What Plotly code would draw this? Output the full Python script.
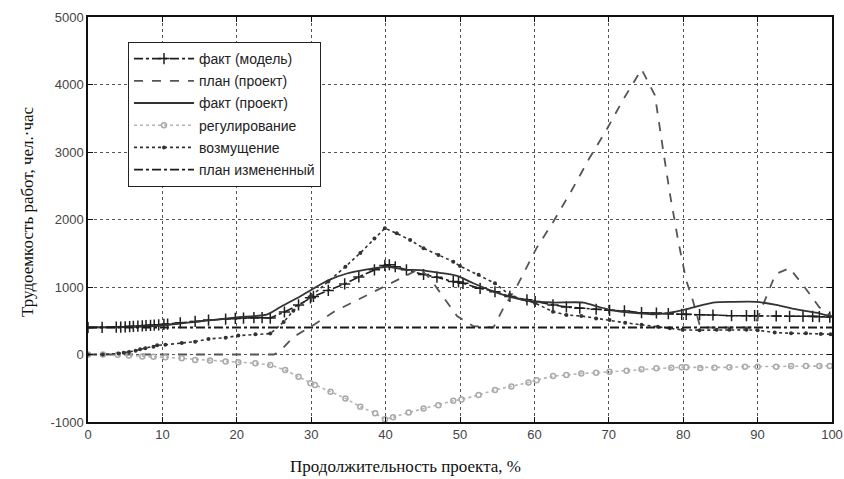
import plotly.graph_objects as go

# ---- data ----
model_x = [0, 1.9, 3.8, 4.4, 5.0, 5.6, 6.1, 6.7, 7.3, 7.8, 8.4, 8.9, 9.5, 10.2, 10.7, 12.4, 14.4, 16.2,
           18.5, 19.8, 20.9, 22.3, 23.4, 24.5, 26.4, 28.3, 29.9, 30.3, 32.3, 34.5, 36.4, 38.5, 39.9, 40.5,
           41.3, 42.8, 45.1, 46.9, 49.1, 49.8, 50.4, 52.7, 54.7, 56.7, 59.0, 60.1, 62.5, 64.3, 66.1, 68.3,
           70.1, 72.1, 74.4, 76.4, 78.0, 79.8, 80.4, 82.2, 84.0, 86.5, 88.5, 89.6, 90.0, 92.5, 94.3, 96.1,
           97.4, 98.3, 99.7]
model_y = [400, 403, 405, 407, 410, 413, 416, 420, 424, 428, 432, 436, 440, 445, 450, 470, 490, 510,
           525, 535, 540, 545, 545, 540, 630, 735, 840, 860, 950, 1045, 1150, 1255, 1320, 1330,
           1300, 1255, 1185, 1145, 1080, 1075, 1055, 980, 930, 860, 810, 785, 735, 705, 685, 670,
           655, 645, 620, 615, 605, 595, 595, 590, 585, 575, 575, 575, 575, 570, 565, 565,
           565, 560, 555]

plan_x = [0, 25, 26, 27.6, 30.1, 33.0, 36.6, 39.7, 42.8, 44.6, 46.0, 47.3, 49.6, 51.8, 53.6, 54.5,
          55.8, 57.6, 60.3, 62.5, 65.0, 67.4, 69.7, 71.9, 74.4, 76.2, 77.3, 78.2, 79.3, 80.4, 81.3,
          82.3, 89.5, 92.4, 94.3, 96.3, 98.3, 100]
plan_y = [0, 0, 70, 260, 420, 630, 830, 1000, 1180, 1270, 1120, 920, 570, 420, 400, 400,
          680, 1000, 1580, 1960, 2430, 2910, 3330, 3770, 4225, 3840, 3030, 2390, 1700, 1100, 800,
          400, 400, 1190, 1280, 1000, 700, 560]

fact_x = [0, 5, 10, 15, 20, 24, 25.8, 28.5, 30.5, 32.3, 34.8, 37.5, 40.2, 42.8, 44.6, 47.3, 49.6,
          51.8, 54.0, 56.7, 59.8, 62.5, 66.6, 68.8, 71.5, 74.2, 76.0, 78.2, 80.9, 84.0, 86.7, 89.8,
          92.5, 95.6, 98.3, 100]
fact_y = [400, 405, 430, 490, 550, 590, 700, 860, 990, 1100, 1200, 1260, 1300, 1255, 1250, 1210, 1165,
          1055, 955, 855, 785, 770, 770, 700, 635, 610, 595, 620, 685, 770, 780, 780,
          735, 660, 610, 560]

reg_x = [0, 2, 4, 5.5, 7.3, 8.8, 10.4, 12.6, 14.4, 16.4, 18.5, 20.2, 22.5, 24.5, 26.5, 28.3, 29.9,
         30.5, 32.6, 34.6, 36.6, 38.6, 39.9, 41.0, 43.1, 45.1, 47.1, 49.1, 50.2, 52.5, 54.7, 56.9,
         59.2, 60.3, 62.5, 64.3, 66.3, 68.3, 70.1, 72.4, 74.4, 76.4, 78.4, 79.8, 80.4, 82.3, 84.2,
         86.2, 88.3, 90.0, 92.5, 94.5, 96.5, 98.3, 99.7]
reg_y = [0, 0, -5, -15, -30, -35, -42, -57, -80, -90, -105, -115, -130, -155, -230, -330, -425,
         -450, -550, -650, -775, -870, -960, -930, -860, -800, -750, -685, -665, -600, -525, -475,
         -415, -380, -320, -305, -280, -270, -255, -240, -220, -205, -195, -190, -190, -200, -195,
         -190, -180, -180, -180, -170, -170, -170, -170]

dist_x = [0, 2, 4.1, 4.8, 5.5, 6.4, 7.0, 7.7, 8.8, 9.3, 10.4, 12.6, 14.4, 16.2, 18.5, 20.2, 22.5,
          24.5, 26.3, 27.6, 29.9, 32.3, 34.6, 36.6, 38.5, 39.9, 41.5, 43.3, 45.1, 47.1, 49.1, 50.0,
          52.5, 54.7, 56.7, 59.0, 60.1, 62.5, 64.3, 66.3, 68.3, 70.1, 72.2, 74.4, 76.6, 78.2, 79.9,
          82.2, 84.5, 86.2, 88.5, 90.0, 92.3, 94.5, 96.5, 98.5, 99.8]
dist_y = [0, 0, 15, 27, 37, 56, 77, 92, 116, 136, 145, 170, 190, 230, 250, 280, 300,
          310, 480, 650, 855, 1080, 1300, 1505, 1720, 1870, 1795, 1695, 1575, 1475, 1375, 1310,
          1180, 1055, 880, 805, 760, 635, 585, 570, 535, 510, 470, 440, 410, 390, 365,
          360, 365, 365, 365, 360, 325, 315, 315, 305, 300]

changed_x = [0, 100]
changed_y = [400, 400]

x_ticks = [0, 10, 20, 30, 40, 50, 60, 70, 80, 90, 100]
x_tick_labels = ["0", "10", "20", "30", "40", "50", "60", "70", "80", "90", "100"]
y_ticks = [-1000, 0, 1000, 2000, 3000, 4000, 5000]
y_tick_labels = ["-1000", "0", "1000", "2000", "3000", "4000", "5000"]

names = ["факт (модель)", "план (проект)", "факт (проект)", "регулирование", "возмущение", "план измененный"]

fig = go.Figure()

fig.add_trace(go.Scatter(
    x=model_x, y=model_y, name=names[0], legendgroup="a", mode="lines+markers",
    line=dict(color="#1e1e1e", width=1.6, dash="dashdot"),
    marker=dict(symbol="cross-thin", size=8, line=dict(color="#1e1e1e", width=1.5))))
fig.add_trace(go.Scatter(
    x=plan_x, y=plan_y, name=names[1], legendgroup="b", mode="lines",
    line=dict(color="#555555", width=1.8, dash="dash")))
fig.add_trace(go.Scatter(
    x=fact_x, y=fact_y, name=names[2], legendgroup="c", mode="lines",
    line=dict(color="#333333", width=1.8, shape="spline", smoothing=0.6)))
fig.add_trace(go.Scatter(
    x=reg_x, y=reg_y, name=names[3], legendgroup="d", mode="lines+markers",
    line=dict(color="#b4b4b4", width=1.6, dash="dot"),
    marker=dict(symbol="circle-open", size=5, color="#aaaaaa", line=dict(width=1.5))))
fig.add_trace(go.Scatter(
    x=dist_x, y=dist_y, name=names[4], legendgroup="e", mode="lines+markers",
    line=dict(color="#333333", width=1.6, dash="dot"),
    marker=dict(symbol="circle", size=4, color="#333333")))
fig.add_trace(go.Scatter(
    x=changed_x, y=changed_y, name=names[5], legendgroup="f", mode="lines",
    line=dict(color="#1a1a1a", width=1.8, dash="dashdot")))

axis_common = dict(
    showline=True, linecolor="#111111", linewidth=1.5, mirror="ticks",
    ticks="inside", ticklen=5, tickcolor="#111111", tickwidth=1.2,
    showgrid=True, gridcolor="#555555", gridwidth=1, griddash="dot",
    zeroline=False, automargin=False, ticklabeloverflow="allow",
    tickfont=dict(family="Liberation Sans, Arial, sans-serif", size=13, color="#444444"),
)

fig.update_xaxes(range=[0, 100], tickmode="array", tickvals=x_ticks, ticktext=x_tick_labels, **axis_common)
fig.update_yaxes(range=[-1000, 5000], tickmode="array", tickvals=y_ticks, ticktext=y_tick_labels, **axis_common)

PW = 744  # plot width in px
PH = 405  # plot height in px

fig.update_layout(
    width=844, height=479,
    margin=dict(l=88, r=12, t=17, b=57),
    paper_bgcolor="white", plot_bgcolor="white",
    showlegend=True,
    legend=dict(
        x=(128 - 88) / PW, y=(422 - 42) / PH, xanchor="left", yanchor="top",
        bgcolor="white", bordercolor="#222222", borderwidth=1,
        font=dict(family="Liberation Sans, Arial, sans-serif", size=14, color="#222222"),
        tracegroupgap=1, itemwidth=60,
    ),
    annotations=[
        dict(text="Продолжительность проекта, %", xref="paper", yref="paper",
             x=(405 - 88) / PW, y=-(466 - 422) / PH, xanchor="center", yanchor="middle",
             showarrow=False,
             font=dict(family="Liberation Serif, Times New Roman, serif", size=17, color="#111111")),
        dict(text="Трудоемкость работ, чел.·час", xref="paper", yref="paper",
             x=-(88 - 27) / PW, y=(422 - 212) / PH, xanchor="center", yanchor="middle",
             textangle=-90, showarrow=False,
             font=dict(family="Liberation Serif, Times New Roman, serif", size=17, color="#111111")),
    ],
)

# remove the default page margin so the figure fills the window exactly; hide the mode bar
fig.write_html("out.html",
               config={"displayModeBar": False},
               post_script="document.body.style.margin='0';document.body.style.overflow='hidden';")
